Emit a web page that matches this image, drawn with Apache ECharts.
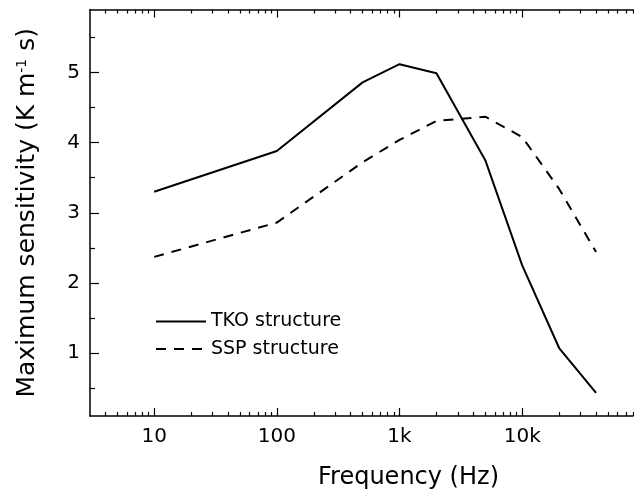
<!DOCTYPE html>
<html>
<head>
<meta charset="utf-8">
<script src="https://cdn.jsdelivr.net/npm/echarts@6/dist/echarts.min.js"></script>
<style>html,body{margin:0;padding:0;background:#fff;}#c{width:634px;height:495px;}</style>
</head>
<body>
<div id="c"></div>
<script>
const frequency = [10, 100, 500, 1000, 2000, 5000, 10000, 20000, 40000];
const tkoSensitivity = [3.30, 3.88, 4.86, 5.12, 4.99, 3.75, 2.25, 1.07, 0.43];
const sspSensitivity = [2.37, 2.86, 3.72, 4.04, 4.31, 4.37, 4.08, 3.34, 2.44];
const xMajorTicks = [10, 100, 1000, 10000];
const xMinorTicks = [4,5,6,7,8,9,20,30,40,50,60,70,80,90,200,300,400,500,600,700,800,900,2000,3000,4000,5000,6000,7000,8000,9000,20000,30000,40000,50000,60000,70000,80000];
const xTickLabels = {10: '10', 100: '100', 1000: '1k', 10000: '10k'};
const yMajorTicks = [1, 2, 3, 4, 5];
const yMinorTicks = [0.5, 1.5, 2.5, 3.5, 4.5, 5.5];

const FONT = 'DejaVu Sans, Liberation Sans, Arial, sans-serif';
const chart = echarts.init(document.getElementById('c'), null, {renderer: 'canvas'});
const lineStyleAxis = {color: '#000', width: 1.5};
function xAx(pos, ticks, len, showLine, showLabel) {
  return {
    type: 'log', logBase: 10, min: 3, max: 80000, position: pos,
    axisLine: {show: showLine, onZero: false, lineStyle: lineStyleAxis},
    axisTick: {show: true, inside: true, length: len, customValues: ticks, lineStyle: {color: '#000', width: 1.2}},
    axisLabel: showLabel ? {show: true, customValues: xMajorTicks, formatter: v => xTickLabels[Math.round(v)] || '', color: '#000', fontSize: 20, fontFamily: FONT, margin: 11} : {show: false},
    splitLine: {show: false}, minorTick: {show: false}
  };
}
const option = {
  animation: false,
  grid: {left: 90, right: 1, top: 9.5, bottom: 79, containLabel: false},
  xAxis: [
    Object.assign(xAx('bottom', xMajorTicks, 8, true, true), {
      name: 'Frequency (Hz)', nameLocation: 'middle', nameGap: 50,
      nameTextStyle: {fontSize: 24, fontFamily: FONT, color: '#000', padding: [0, 0, 0, 94]}
    }),
    xAx('bottom', xMinorTicks, 4, false, false),
    xAx('top', xMajorTicks, 8, true, false),
    xAx('top', xMinorTicks, 4, false, false)
  ],
  yAxis: [
    {
      type: 'value', min: 0.1, max: 5.9, position: 'left',
      axisLine: {show: true, onZero: false, lineStyle: lineStyleAxis},
      axisTick: {show: true, inside: true, length: 9, customValues: yMajorTicks, lineStyle: {color: '#000', width: 1.2}},
      axisLabel: {customValues: yMajorTicks, color: '#000', fontSize: 20, fontFamily: FONT, margin: 10},
      splitLine: {show: false},
      name: 'Maximum sensitivity (K m{sup|-1} s)', nameLocation: 'middle', nameGap: 50, nameRotate: 90,
      nameTextStyle: {fontSize: 25, fontFamily: FONT, color: '#000',
        rich: {sup: {fontSize: 14, fontFamily: FONT, color: '#000', verticalAlign: 'top'}}}
    },
    {
      type: 'value', min: 0.1, max: 5.9, position: 'left',
      axisLine: {show: false},
      axisTick: {show: true, inside: true, length: 5, customValues: yMinorTicks, lineStyle: {color: '#000', width: 1.2}},
      axisLabel: {show: false}, splitLine: {show: false}
    }
  ],
  legend: {
    orient: 'vertical', left: 155, top: 312, padding: 0, itemWidth: 50, itemHeight: 14, itemGap: 8.5,
    textStyle: {fontSize: 19, fontFamily: FONT, color: '#000'},
    itemStyle: {opacity: 0},
    data: ['TKO structure', 'SSP structure']
  },
  series: [
    {name: 'TKO structure', type: 'line', symbol: 'none', data: frequency.map((f, i) => [f, tkoSensitivity[i]]),
     lineStyle: {color: '#000', width: 2, type: 'solid'}, itemStyle: {color: '#000'}},
    {name: 'SSP structure', type: 'line', symbol: 'none', data: frequency.map((f, i) => [f, sspSensitivity[i]]),
     lineStyle: {color: '#000', width: 2, type: [10, 8]}, itemStyle: {color: '#000'}}
  ]
};
chart.setOption(option);
</script>
</body>
</html>
